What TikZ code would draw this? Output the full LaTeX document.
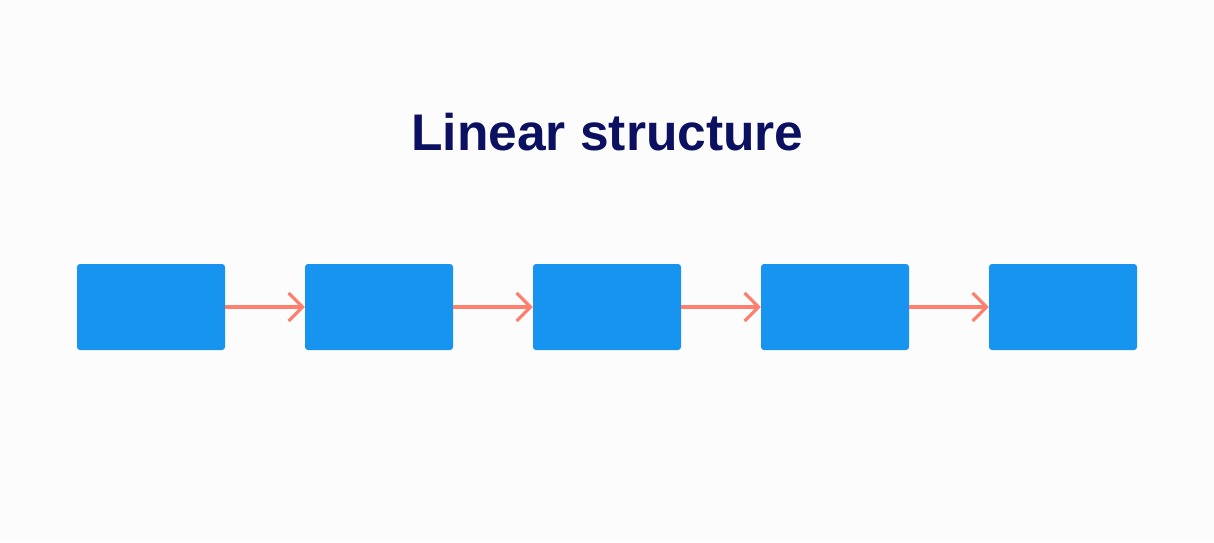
\documentclass[tikz,border=0pt]{standalone}
\usepackage{fontspec}
\setmainfont{Liberation Sans}
\usetikzlibrary{arrows.meta}
\definecolor{bg}{HTML}{FCFCFC}
\definecolor{navy}{HTML}{0B1160}
\definecolor{boxblue}{HTML}{1793F0}
\definecolor{salmon}{HTML}{FF7F6E}
\tikzset{
  blk/.style={fill=boxblue, draw=none, rounded corners=3pt, minimum width=148pt, minimum height=86pt, inner sep=0pt},
  link/.style={draw=salmon, line width=3.2pt, -{Straight Barb[length=14pt,width=28pt,line width=3.2pt]}},
  ttl/.style={text=navy, font=\bfseries\fontsize{51.5}{58}\selectfont, inner sep=0pt, anchor=base}
}
\begin{document}
\begin{tikzpicture}[x=1pt,y=-1pt]
\fill[bg] (0,0) rectangle (1214,542);
\useasboundingbox (0,0) rectangle (1214,542);
\node[ttl] (title) at (607.5,150) {Linear structure};
\node[blk] (b1) at (151,307) {};
\node[blk] (b2) at (379,307) {};
\node[blk] (b3) at (607,307) {};
\node[blk] (b4) at (835,307) {};
\node[blk] (b5) at (1063,307) {};
\draw[link] (b1.east) -- (b2.west);
\draw[link] (b2.east) -- (b3.west);
\draw[link] (b3.east) -- (b4.west);
\draw[link] (b4.east) -- (b5.west);
\end{tikzpicture}
\end{document}
